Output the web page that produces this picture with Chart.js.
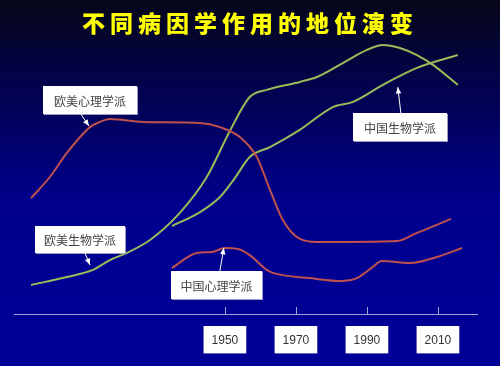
<!DOCTYPE html>
<html>
<head>
<meta charset="utf-8">
<script src="https://cdn.jsdelivr.net/npm/chart.js@4.4.1/dist/chart.umd.min.js"></script>
<style>
  html, body { margin: 0; padding: 0; background: #000066; }
  #wrap { width: 500px; height: 366px; }
</style>
</head>
<body>
<div id="wrap"><canvas id="chart" width="500" height="366"></canvas></div>
<script>
'use strict';

const titleText = '不同病因学作用的地位演变';
const tickYears = [1950, 1970, 1990, 2010];

// 欧美心理学派
const westPsychYears = [1895.4, 1900.7, 1905.5, 1912.0, 1914.8, 1917.6, 1926.9, 1943.0, 1948.6, 1954.2, 1959.0, 1962.7, 1966.3, 1971.1, 1975.9, 1985.2, 1998.5, 2004.1, 2009.7, 2013.7];
const westPsychValues = [42.3, 50.0, 58.8, 68.2, 70.1, 71.2, 70.1, 69.7, 68.2, 64.6, 57.3, 45.3, 34.3, 27.4, 26.3, 26.3, 26.6, 29.6, 32.5, 34.7];

// 中国心理学派
const cnPsychYears = [1935.1, 1942.1, 1946.3, 1950.0, 1953.7, 1957.0, 1961.8, 1963.5, 1973.9, 1983.2, 1987.2, 1991.7, 1994.2, 2002.1, 2009.7, 2016.8];
const cnPsychValues = [16.8, 22.3, 22.6, 24.1, 23.7, 21.5, 16.1, 15.0, 13.1, 12.0, 13.1, 17.2, 19.3, 18.6, 20.8, 24.1];

// 欧美生物学派
const westBioYears = [1895.4, 1905.5, 1912.8, 1917.6, 1922.4, 1928.9, 1937.3, 1944.9, 1951.4, 1957.0, 1961.8, 1971.1, 1975.9, 1983.2, 1990.0, 1994.5, 1999.3, 2004.1, 2008.6, 2015.6];
const westBioValues = [10.6, 13.5, 16.1, 19.7, 22.3, 27.0, 36.9, 50.0, 66.8, 79.2, 81.8, 84.7, 86.5, 91.6, 96.4, 98.2, 97.1, 94.5, 90.9, 83.6];

// 中国生物学派
const cnBioYears = [1935.1, 1943.0, 1948.6, 1952.8, 1957.0, 1962.7, 1971.1, 1980.4, 1986.1, 1994.5, 2004.1, 2015.6];
const cnBioValues = [32.1, 37.2, 42.7, 49.6, 57.3, 60.9, 67.2, 75.5, 77.4, 83.6, 89.8, 94.5];

const seriesNames = ['欧美心理学派', '中国心理学派', '欧美生物学派', '中国生物学派'];

// callout tips are in data units, box offsets in pixels
const calloutTips = [
    { text: '欧美心理学派', x: 1911.7, y: 68.6 },
    { text: '欧美生物学派', x: 1912.0, y: 17.9 },
    { text: '中国心理学派', x: 1949.7, y: 24.1 },
    { text: '中国生物学派', x: 1998.7, y: 82.8 }
];
const calloutBoxes = [
    { dx: -46, dy: -40, w: 94, h: 28, ax: -8 },
    { dx: -55, dy: -39, w: 90, h: 27, ax: -5 },
    { dx: -53, dy: 23, w: 91, h: 28, ax: -4 },
    { dx: -45, dy: 26, w: 94, h: 28, ax: 3 }
];

const RED = '#c0504d';
const GREEN = '#9bbb59';
const AXIS = '#a4a4d8';

function toPoints(xs, ys) {
    return xs.map((x, i) => ({ x: x, y: ys[i] }));
}

function lineSet(label, xs, ys, color) {
    return {
        label: label,
        data: toPoints(xs, ys),
        borderColor: color,
        borderWidth: 2,
        pointRadius: 0,
        fill: false,
        cubicInterpolationMode: 'monotone'
    };
}

const backgroundPlugin = {
    id: 'slideBackground',
    beforeDraw(chart) {
        const ctx = chart.ctx;
        const g = ctx.createLinearGradient(0, 0, 0, chart.height);
        g.addColorStop(0, '#06061a');
        g.addColorStop(0.25, '#020250');
        g.addColorStop(0.55, '#00008c');
        g.addColorStop(1, '#000099');
        ctx.save();
        ctx.fillStyle = g;
        ctx.fillRect(0, 0, chart.width, chart.height);
        ctx.restore();
    }
};

const titlePlugin = {
    id: 'spacedTitle',
    afterDraw(chart) {
        const ctx = chart.ctx;
        ctx.save();
        ctx.font = '900 23px "Noto Sans CJK SC", sans-serif';
        ctx.letterSpacing = '5px';
        ctx.fillStyle = '#ffff00';
        ctx.textAlign = 'center';
        ctx.textBaseline = 'middle';
        ctx.fillText(titleText, 250, 23);
        ctx.restore();
    }
};

const tickMarkPlugin = {
    id: 'tickMarks',
    afterDatasetsDraw(chart) {
        const ctx = chart.ctx;
        const xs = chart.scales.x;
        const bottom = chart.chartArea.bottom;
        ctx.save();
        ctx.strokeStyle = AXIS;
        ctx.lineWidth = 1;
        tickYears.forEach(v => {
            const px = Math.round(xs.getPixelForValue(v)) + 0.5;
            ctx.beginPath();
            ctx.moveTo(px, bottom - 7);
            ctx.lineTo(px, bottom);
            ctx.stroke();
        });
        ctx.restore();
    }
};

const calloutPlugin = {
    id: 'callouts',
    afterDraw(chart) {
        const ctx = chart.ctx;
        const xs = chart.scales.x;
        const ys = chart.scales.y;
        ctx.save();
        calloutTips.forEach((c, i) => {
            const b = calloutBoxes[i];
            const tx = xs.getPixelForValue(c.x);
            const ty = ys.getPixelForValue(c.y);
            const left = Math.round(tx + b.dx);
            const top = Math.round(ty + b.dy);

            // box
            ctx.fillStyle = '#9c9cc8';
            ctx.fillRect(left + 1, top + 1, b.w, b.h);
            ctx.fillStyle = '#ffffff';
            ctx.fillRect(left, top, b.w, b.h);

            ctx.fillStyle = '#444444';
            ctx.font = '12px "Noto Sans CJK SC", sans-serif';
            ctx.textAlign = 'center';
            ctx.textBaseline = 'middle';
            ctx.fillText(c.text, left + b.w / 2, top + b.h / 2 + 1);

            // arrow
            const sx = tx + b.ax;
            const sy = b.dy < 0 ? top + b.h : top;
            const ang = Math.atan2(ty - sy, tx - sx);
            ctx.strokeStyle = '#ffffff';
            ctx.lineWidth = 1;
            ctx.beginPath();
            ctx.moveTo(sx, sy);
            ctx.lineTo(tx, ty);
            ctx.stroke();
            ctx.fillStyle = '#ffffff';
            ctx.beginPath();
            ctx.moveTo(tx, ty);
            ctx.lineTo(tx - 7 * Math.cos(ang - 0.4), ty - 7 * Math.sin(ang - 0.4));
            ctx.lineTo(tx - 7 * Math.cos(ang + 0.4), ty - 7 * Math.sin(ang + 0.4));
            ctx.closePath();
            ctx.fill();
        });
        ctx.restore();
    }
};

const chart = new Chart(document.getElementById('chart'), {
    type: 'line',
    data: {
        datasets: [
            lineSet(seriesNames[0], westPsychYears, westPsychValues, RED),
            lineSet(seriesNames[1], cnPsychYears, cnPsychValues, RED),
            lineSet(seriesNames[2], westBioYears, westBioValues, GREEN),
            lineSet(seriesNames[3], cnBioYears, cnBioValues, GREEN)
        ]
    },
    options: {
        responsive: false,
        animation: false,
        devicePixelRatio: 1,
        layout: {
            padding: { top: 40, left: 14, right: 23, bottom: 0 }
        },
        plugins: {
            legend: { display: false },
            title: { display: false },
            tooltip: { enabled: false }
        },
        scales: {
            x: {
                type: 'linear',
                min: 1890.6,
                max: 2021,
                afterBuildTicks(scale) {
                    scale.ticks = tickYears.map(v => ({ value: v }));
                },
                afterFit(scale) {
                    scale.height = 52;
                },
                border: { display: true, color: AXIS, width: 1 },
                grid: { drawOnChartArea: false, drawTicks: false },
                ticks: {
                    autoSkip: false,
                    maxRotation: 0,
                    color: '#333333',
                    font: { family: '"Liberation Sans", sans-serif', size: 12 },
                    padding: 19,
                    showLabelBackdrop: true,
                    backdropColor: '#ffffff',
                    backdropPadding: { top: 7, bottom: 6, left: 8, right: 8 },
                    callback: v => String(v)
                }
            },
            y: {
                display: false,
                min: 0,
                max: 100
            }
        }
    },
    plugins: [backgroundPlugin, tickMarkPlugin, calloutPlugin, titlePlugin]
});
</script>
</body>
</html>
